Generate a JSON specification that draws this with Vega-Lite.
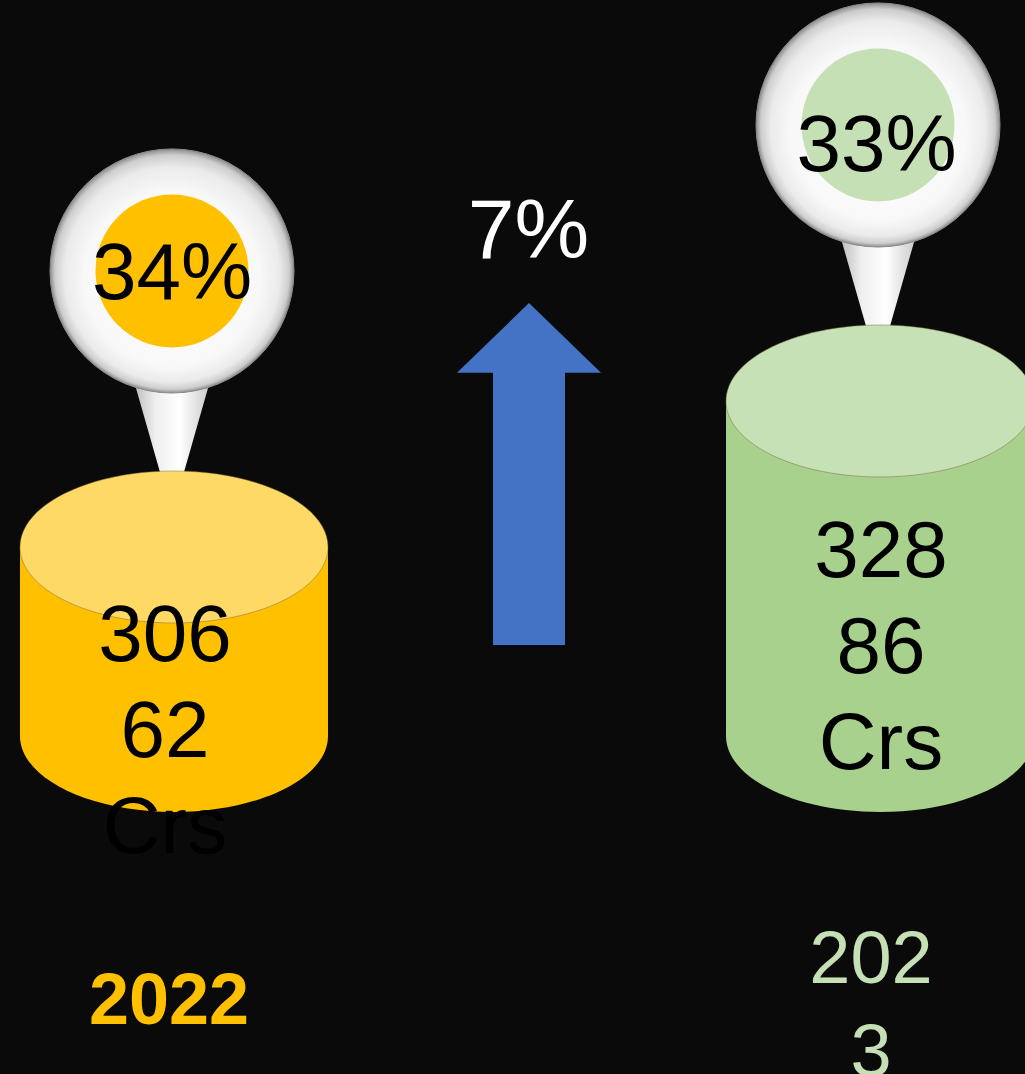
{
  "$schema": "https://vega.github.io/schema/vega-lite/v6.json",
  "width": 1025,
  "height": 1074,
  "autosize": {"type": "none"},
  "padding": 0,
  "background": "#0a0a0a",
  "config": {"view": {"stroke": null}, "text": {"font": "Liberation Sans"}},
  "datasets": {
    "years": [
      {"period": "2022", "value": 30662, "unit": "Crs", "valueText": ["306", "62", "Crs"], "share": "34%", "yearText": ["2022"]},
      {"period": "2023", "value": 32886, "unit": "Crs", "valueText": ["328", "86", "Crs"], "share": "33%", "yearText": ["202", "3"]}
    ],
    "change": [
      {"period": "2022–2023", "growth": "7%"}
    ]
  },
  "encoding": {
    "x": {"field": "period", "type": "nominal", "axis": null,
      "scale": {"type": "point", "domain": ["2022", "2022–2023", "2023"], "padding": 0.4518, "align": 0.5392}}
  },
  "layer": [
    {
      "data": {"name": "years"},
      "mark": {"type": "point", "filled": true, "opacity": 1, "strokeWidth": 0, "size": 59536, "yOffset": -73,
        "shape": "M-0.094,0L-0.337,-0.85L0.337,-0.85L0.094,0Z",
        "fill": {"gradient": "linear", "x1": 0, "y1": 0, "x2": 1, "y2": 0,
          "stops": [{"offset": 0, "color": "#b4b4b4"}, {"offset": 0.3, "color": "#efefef"}, {"offset": 0.6, "color": "#ffffff"}, {"offset": 1, "color": "#c4c4c4"}]}},
      "encoding": {
        "y": {"field": "value", "type": "quantitative", "axis": null, "scale": {"domain": [22634, 38994], "zero": false, "nice": false}}
      }
    },
    {
      "data": {"name": "years"},
      "mark": {"type": "point", "shape": "circle", "filled": true, "opacity": 1, "size": 59536, "yOffset": -276,
        "stroke": "#8c8c8c", "strokeWidth": 1,
        "fill": {"gradient": "radial", "x1": 0.5, "y1": 0.62, "r1": 0, "x2": 0.5, "y2": 0.5, "r2": 0.5,
          "stops": [{"offset": 0, "color": "#ffffff"}, {"offset": 0.72, "color": "#f8f8f8"}, {"offset": 0.88, "color": "#ebebeb"}, {"offset": 0.96, "color": "#cdcdcd"}, {"offset": 1, "color": "#8c8c8c"}]}},
      "encoding": {
        "y": {"field": "value", "type": "quantitative"}
      }
    },
    {
      "data": {"name": "years"},
      "mark": {"type": "point", "shape": "circle", "filled": true, "opacity": 1, "size": 23409, "yOffset": -276, "strokeWidth": 0},
      "encoding": {
        "y": {"field": "value", "type": "quantitative"},
        "color": {"field": "period", "type": "nominal", "legend": null, "scale": {"domain": ["2022", "2023"], "range": ["#FFC000", "#C5E0B4"]}}
      }
    },
    {
      "data": {"name": "years"},
      "transform": [{"filter": "datum.period === '2022'"}],
      "mark": {"type": "text", "fontSize": 80, "color": "#000000", "yOffset": -272, "align": "center", "baseline": "middle"},
      "encoding": {
        "y": {"field": "value", "type": "quantitative"},
        "text": {"field": "share", "type": "nominal"}
      }
    },
    {
      "data": {"name": "years"},
      "transform": [{"filter": "datum.period === '2023'"}],
      "mark": {"type": "text", "fontSize": 80, "color": "#000000", "yOffset": -254, "xOffset": -1.5, "align": "center", "baseline": "middle"},
      "encoding": {
        "y": {"field": "value", "type": "quantitative"},
        "text": {"field": "share", "type": "nominal"}
      }
    },
    {
      "data": {"name": "years"},
      "mark": {"type": "point", "filled": true, "opacity": 1, "strokeWidth": 0, "size": 94864, "xOffset": 2,
        "shape": "M-1,0A1,0.4935,0,1,0,1,0A1,0.4935,0,1,0,-1,0Z"},
      "encoding": {
        "y": {"datum": 27783, "type": "quantitative"},
        "color": {"field": "period", "type": "nominal", "legend": null, "scale": {"domain": ["2022", "2023"], "range": ["#FFC000", "#A9D18E"]}}
      }
    },
    {
      "data": {"name": "years"},
      "mark": {"type": "bar", "width": 308, "opacity": 1, "xOffset": 2},
      "encoding": {
        "y": {"field": "value", "type": "quantitative"},
        "y2": {"datum": 27783},
        "color": {"field": "period", "type": "nominal", "legend": null, "scale": {"domain": ["2022", "2023"], "range": ["#FFC000", "#A9D18E"]}}
      }
    },
    {
      "data": {"name": "years"},
      "mark": {"type": "point", "filled": true, "opacity": 1, "size": 94864, "xOffset": 2, "stroke": "#7a6a3a", "strokeOpacity": 0.6, "strokeWidth": 0.8,
        "shape": "M-1,0A1,0.4935,0,1,0,1,0A1,0.4935,0,1,0,-1,0Z"},
      "encoding": {
        "y": {"field": "value", "type": "quantitative"},
        "color": {"field": "period", "type": "nominal", "legend": null, "scale": {"domain": ["2022", "2023"], "range": ["#FFD966", "#C6E1B6"]}}
      }
    },
    {
      "data": {"name": "years"},
      "transform": [{"filter": "datum.period === '2022'"}],
      "mark": {"type": "text", "fontSize": 80, "lineHeight": 96, "color": "#000000", "yOffset": 90, "xOffset": -7, "align": "center", "baseline": "middle"},
      "encoding": {
        "y": {"field": "value", "type": "quantitative"},
        "text": {"field": "valueText", "type": "nominal"}
      }
    },
    {
      "data": {"name": "years"},
      "transform": [{"filter": "datum.period === '2023'"}],
      "mark": {"type": "text", "fontSize": 80, "lineHeight": 96, "color": "#000000", "yOffset": 152, "xOffset": 3, "align": "center", "baseline": "middle"},
      "encoding": {
        "y": {"field": "value", "type": "quantitative"},
        "text": {"field": "valueText", "type": "nominal"}
      }
    },
    {
      "data": {"name": "years"},
      "transform": [{"filter": "datum.period === '2022'"}],
      "mark": {"type": "text", "fontSize": 72, "fontWeight": "bold", "color": "#FFC000", "yOffset": 266, "xOffset": -3, "align": "center", "baseline": "middle"},
      "encoding": {
        "y": {"datum": 27783, "type": "quantitative"},
        "text": {"field": "yearText", "type": "nominal"}
      }
    },
    {
      "data": {"name": "years"},
      "transform": [{"filter": "datum.period === '2023'"}],
      "mark": {"type": "text", "fontSize": 74, "lineHeight": 93, "color": "#C5E0B4", "yOffset": 225, "xOffset": -7, "align": "center", "baseline": "middle"},
      "encoding": {
        "y": {"datum": 27783, "type": "quantitative"},
        "text": {"field": "yearText", "type": "nominal"}
      }
    },
    {
      "data": {"name": "change"},
      "mark": {"type": "point", "filled": true, "opacity": 1, "strokeWidth": 0, "size": 20736, "color": "#4472C4", "yOffset": -91, "xOffset": 4,
        "shape": "M-0.5,0L-0.5,-3.78L-1,-3.78L0,-4.75L1,-3.78L0.5,-3.78L0.5,0Z"},
      "encoding": {
        "y": {"datum": 27783, "type": "quantitative"}
      }
    },
    {
      "data": {"name": "change"},
      "mark": {"type": "text", "fontSize": 84, "color": "#ffffff", "yOffset": -503, "xOffset": 3.5, "align": "center", "baseline": "middle"},
      "encoding": {
        "y": {"datum": 27783, "type": "quantitative"},
        "text": {"field": "growth", "type": "nominal"}
      }
    }
  ],
  "resolve": {"scale": {"color": "independent"}}
}
